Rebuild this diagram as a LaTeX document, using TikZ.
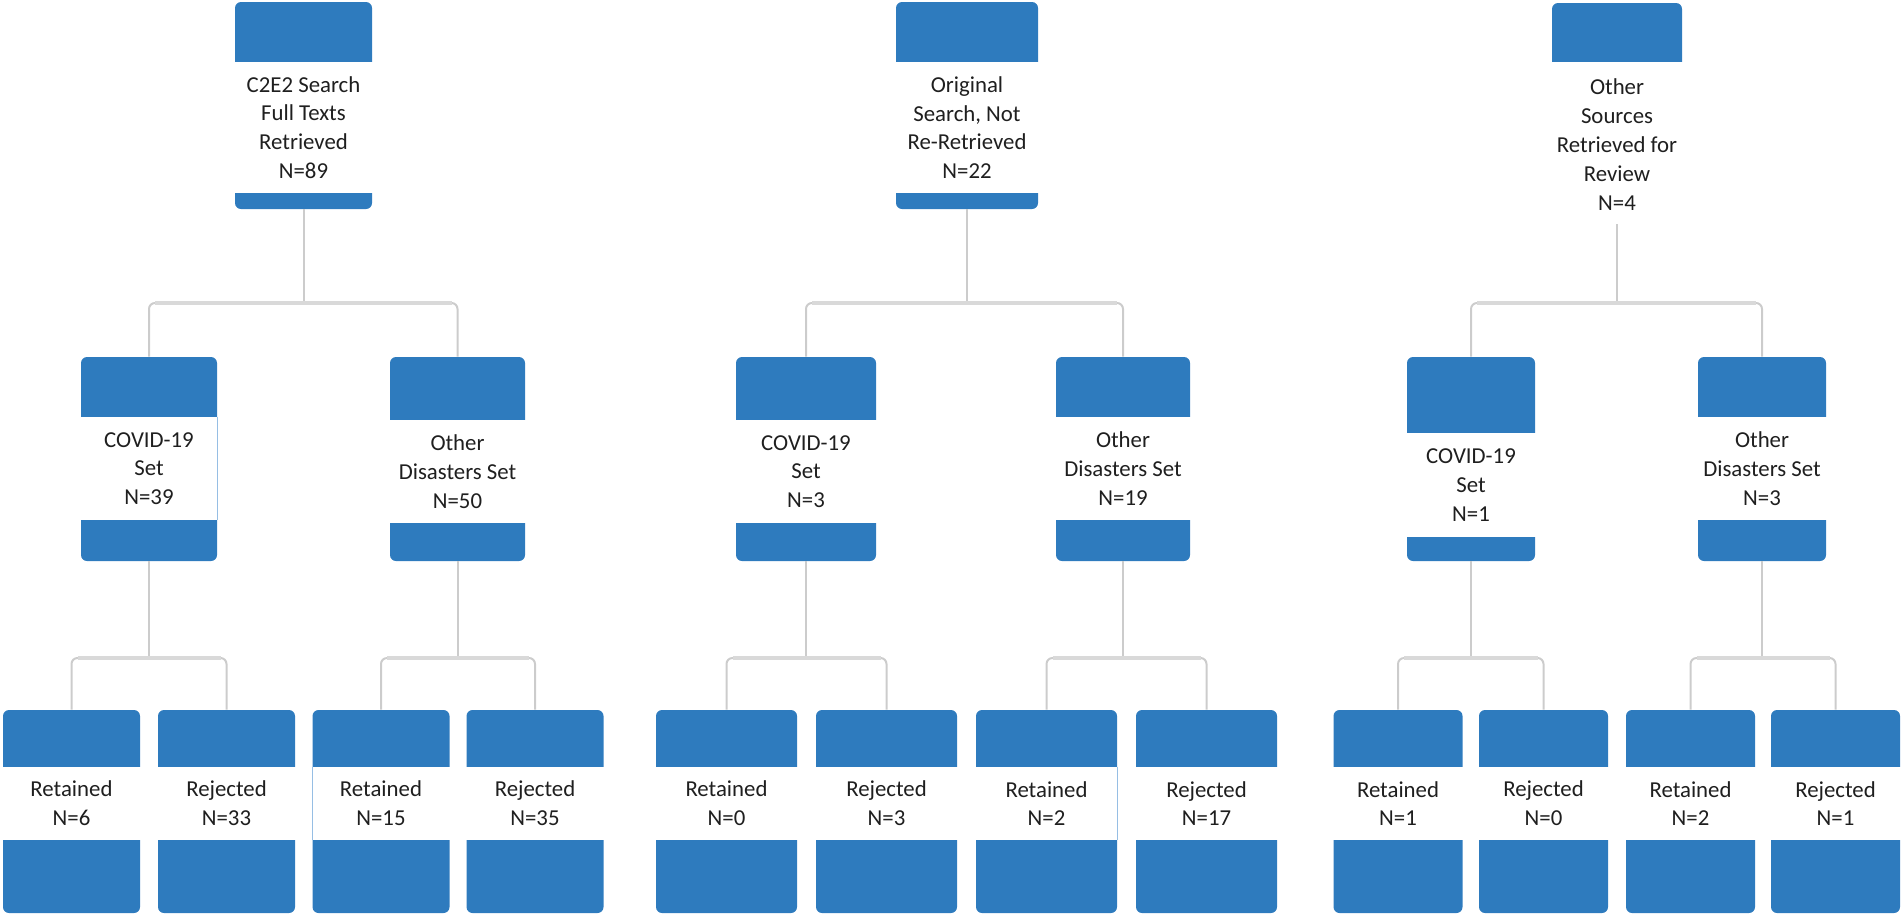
\documentclass[tikz,border=0pt]{standalone}
\usepackage{fontspec}
\setmainfont{Carlito}
\definecolor{boxblue}{RGB}{46,123,190}
\definecolor{seamblue}{RGB}{150,190,228}

% one coloured block: name, centre x, width, top, band top, band bottom, bottom, text
\newcommand{\flowblock}[8]{%
  \node[block, minimum width=#3*0.5pt, minimum height={(#7-#4)*0.5pt}] (#1) at (#2, {(#4+#7)/2}) {};
  \fill[white] ({#2-#3/2-1}, #5) rectangle ({#2+#3/2+1}, #6);
  \node[blocktext] (#1-t) at (#2, {(#5+#6)/2}) {#8};
}

\begin{document}
\begin{tikzpicture}[x=0.5pt, y=-0.5pt,
    block/.style={rectangle, rounded corners=3pt, fill=boxblue, draw=none, inner sep=0pt},
    blocktext/.style={align=center, inner sep=0pt, text=black!88, font=\fontsize{11.4}{14.4}\selectfont},
    stem/.style={draw=gray!40, line width=1pt},
    crossbar/.style={draw=gray!30, line width=2.2pt, shorten <=3pt, shorten >=3pt},
    seam/.style={draw=seamblue, line width=0.6pt}]

    \useasboundingbox (0,0) rectangle (1904,917);
    \coordinate (lvl1) at (0,303);
    \coordinate (lvl2) at (0,658);

    % Sources
    \flowblock{c2e2}{303.5}{137}{2}{62}{193}{209}{C2E2 Search\\Full Texts\\Retrieved\\N=89}
    \flowblock{orig}{967}{142}{2}{62}{193}{209}{Original\\Search, Not\\Re-Retrieved\\N=22}
    \flowblock{srcs}{1617}{130}{3}{62}{227}{224}{Other\\Sources\\Retrieved for\\Review\\N=4}

    % Sets
    \flowblock{covA}{149}{136}{357}{417}{520}{561}{COVID-19\\Set\\N=39}
    \flowblock{othA}{457.5}{135}{357}{420}{523}{561}{Other\\Disasters Set\\N=50}
    \flowblock{covB}{806}{140}{357}{420}{523}{561}{COVID-19\\Set\\N=3}
    \flowblock{othB}{1123}{134}{357}{417}{520}{561}{Other\\Disasters Set\\N=19}
    \flowblock{covC}{1471}{128}{357}{433}{537}{561}{COVID-19\\Set\\N=1}
    \flowblock{othC}{1762}{128}{357}{417}{520}{561}{Other\\Disasters Set\\N=3}

    % Decisions
    \flowblock{retA}{71.5}{137}{710}{767}{840}{913}{Retained\\N=6}
    \flowblock{rejA}{226.5}{137}{710}{767}{840}{913}{Rejected\\N=33}
    \flowblock{retB}{381}{137}{710}{767}{840}{913}{Retained\\N=15}
    \flowblock{rejB}{535}{137}{710}{767}{840}{913}{Rejected\\N=35}
    \flowblock{retC}{726.5}{141}{710}{767}{840}{913}{Retained\\N=0}
    \flowblock{rejC}{886.5}{141}{710}{767}{840}{913}{Rejected\\N=3}
    \flowblock{retD}{1046.5}{141}{710}{767}{840}{913}{Retained\\N=2}
    \flowblock{rejD}{1206.5}{141}{710}{767}{840}{913}{Rejected\\N=17}
    \flowblock{retE}{1398}{129}{710}{767}{840}{913}{Retained\\N=1}
    \flowblock{rejE}{1543.5}{129}{710}{767}{840}{913}{Rejected\\N=0}
    \flowblock{retF}{1690.5}{129}{710}{767}{840}{913}{Retained\\N=2}
    \flowblock{rejF}{1835.5}{129}{710}{767}{840}{913}{Rejected\\N=1}

    % thin seams on some blocks
    \draw[seam] (covA.east |- 0,417) -- (covA.east |- 0,520);
    \draw[seam] (retB.west |- 0,767) -- (retB.west |- 0,840);
    \draw[seam] (retD.east |- 0,767) -- (retD.east |- 0,840);

    % Connectors, sources to sets
    \foreach \top/\lt/\rt in {c2e2/covA/othA, orig/covB/othB, srcs/covC/othC} {
        \draw[stem] (\top.south) -- (\top.south |- lvl1);
        \draw[stem, rounded corners=3pt] (\lt.north) |- (\top.south |- lvl1) -| (\rt.north);
        \draw[crossbar] (\lt.north |- lvl1) -- (\rt.north |- lvl1);
    }

    % Connectors, sets to decisions
    \foreach \top/\lt/\rt in {covA/retA/rejA, othA/retB/rejB, covB/retC/rejC,
                              othB/retD/rejD, covC/retE/rejE, othC/retF/rejF} {
        \draw[stem] (\top.south) -- (\top.south |- lvl2);
        \draw[stem, rounded corners=3pt] (\lt.north) |- (\top.south |- lvl2) -| (\rt.north);
        \draw[crossbar] (\lt.north |- lvl2) -- (\rt.north |- lvl2);
    }

\end{tikzpicture}
\end{document}
